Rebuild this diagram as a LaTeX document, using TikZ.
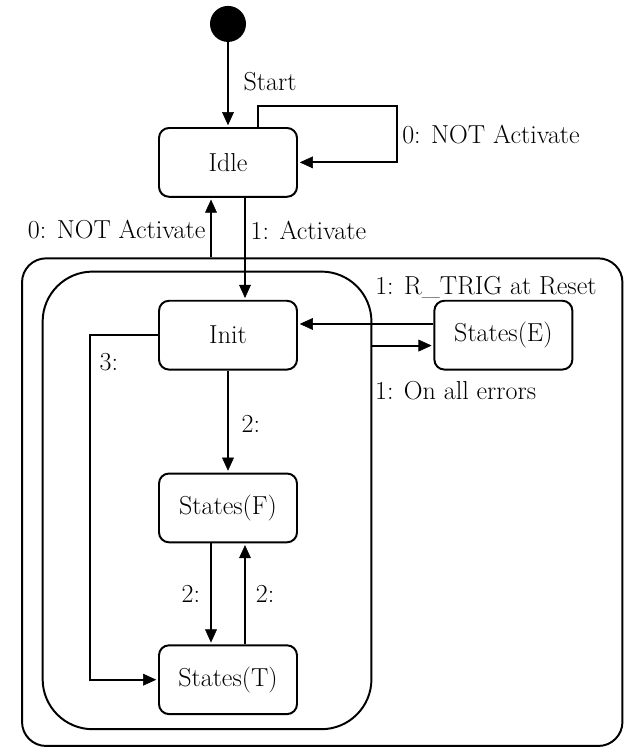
\documentclass[tikz,border=0pt]{standalone}
\usepackage{tikz}
\usetikzlibrary{positioning, calc, arrows.meta, decorations.markings}

\tikzstyle{State} = [
draw,
line width=1.4pt,
rectangle,
rounded corners=0.25cm,
minimum width=3.45cm,
minimum height=1.72cm]
\tikzstyle{Frame} = [
draw,
line width=1.4pt,
rectangle,
inner sep=0pt]
\tikzstyle{Arrow} = [
line width=1.4pt,
decoration={
markings,
mark=at position 0.9999 with {
\arrow{Triangle[length=3.9mm, width=3.4mm]}}},
shorten >= 3pt, preaction = {decorate}]

\begin{document}
\begin{tikzpicture}[font=\fontsize{18.5}{22}\selectfont, node distance=2.55cm]
    \useasboundingbox (0,0) rectangle (15.625,18.7);

    \node [State] (2) at (5.7,14.64) {Idle};
    \node [circle, fill, inner sep=0pt, minimum size=0.9cm, above=2.12cm of 2] (1) {};
    \node [State, below=of 2] (3) {Init};
    \node [State, right=3.385cm of 3] (4) {States(E)};
    \node [State, below=of 3] (5) {States(F)};
    \node [State, below=2.525cm of 5] (6) {States(T)};
    \node [Frame, rounded corners=0.6cm, minimum width=15.01cm, minimum height=12.19cm] (7) at (8.056,6.146) {};
    \node [Frame, rounded corners=1.25cm, minimum width=8.22cm, minimum height=11.44cm] (8) at (5.176,6.19) {};

    \coordinate (a) at ([xshift=0.425cm]2.south);
    \coordinate (b) at ([xshift=-0.425cm]2.south);
    \coordinate (c) at ([yshift=0.28cm]4.west);
    \coordinate (d) at ([yshift=-0.26cm]4.west);
    \coordinate (loop) at ([xshift=2.465cm]2.east);

    \draw[Arrow] (1) -- (2) node [pos=0.46, right=2.5mm] {Start};
    \draw[Arrow] ([xshift=0.74cm]2.north) -- ++(0,0.53) -| (loop) node [pos=0.75, right] {0: NOT Activate} -- (2.east);
    \draw[Arrow] (a) -- (a |- 3.north) node [pos=0.32, right] {1: Activate};
    \draw[Arrow] (b |- 7.north) -- (b) node [pos=0.46, left] {0: NOT Activate};
    \draw[Arrow] (3) -- (5) node [pos=0.52, right=2mm] {2:};
    \draw[Arrow] ([xshift=-0.425cm]5.south) -- ([xshift=-0.425cm]6.north) node [midway, left=1.3mm] {2:};
    \draw[Arrow] ([xshift=0.425cm]6.north) -- ([xshift=0.425cm]5.south) node [midway, right=1.3mm] {2:};
    \draw[Arrow] (3.west) -- ++(-1.7,0) node [below right=3mm and 1mm] {3:} |- (6.west);
    \draw[Arrow] (c) -- (c -| 3.east) node [pos=0.471, anchor=west, yshift=0.92cm] {1: R\_TRIG at Reset};
    \draw[Arrow] (d -| 8.east) -- (d) node [at start, anchor=west, xshift=-0.075cm, yshift=-1.13cm] {1: On all errors};
\end{tikzpicture}
\end{document}
